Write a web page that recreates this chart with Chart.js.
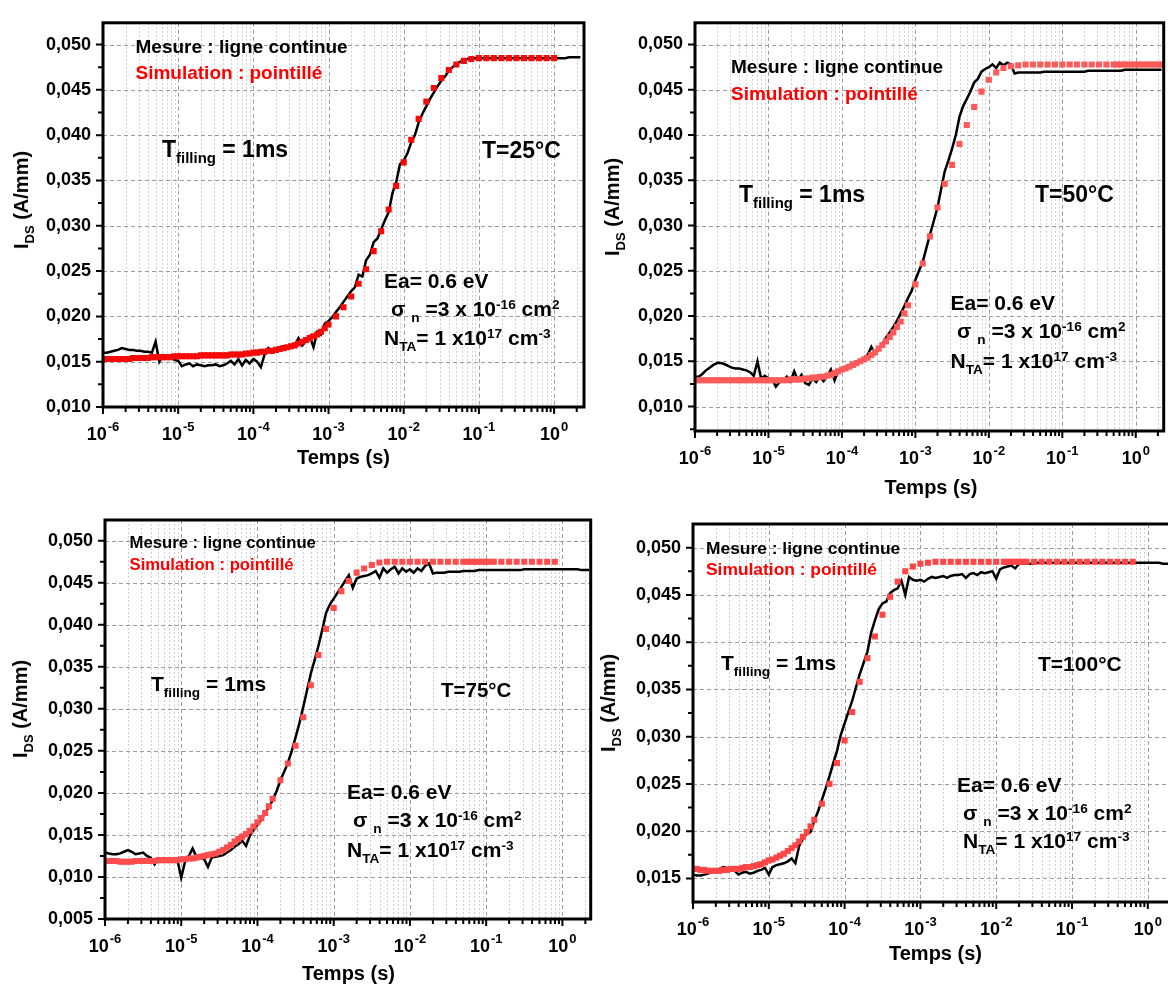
<!DOCTYPE html>
<html>
<head>
<meta charset="utf-8">
<script src="https://cdn.jsdelivr.net/npm/chart.js@4.4.1/dist/chart.umd.min.js"></script>
<style>
  html, body { margin: 0; padding: 0; background: #fff; overflow: hidden; }
  body { width: 1168px; height: 987px; position: relative;
         font-family: 'Liberation Sans', Arial, Helvetica, sans-serif; font-weight: bold; color: #000; }
  canvas { position: absolute; }
  .t { position: absolute; white-space: nowrap; line-height: 1; }
  .sb { font-size: 0.65em; position: relative; top: 0.45em; }
  .sp { font-size: 0.65em; position: relative; top: -0.5em; }
</style>
</head>
<body>
<script>
/* globals Chart:false */

// Time grid shared by all curves (0.05 decade steps)
var T_GRID = [
  1e-6,1.12e-6,1.26e-6,1.41e-6,1.58e-6,1.78e-6,2e-6,2.24e-6,2.51e-6,2.82e-6,3.16e-6,3.55e-6,3.98e-6,4.47e-6,5.01e-6,5.62e-6,6.31e-6,7.08e-6,7.94e-6,8.91e-6,
  1e-5,1.12e-5,1.26e-5,1.41e-5,1.58e-5,1.78e-5,2e-5,2.24e-5,2.51e-5,2.82e-5,3.16e-5,3.55e-5,3.98e-5,4.47e-5,5.01e-5,5.62e-5,6.31e-5,7.08e-5,7.94e-5,8.91e-5,
  1e-4,1.12e-4,1.26e-4,1.41e-4,1.58e-4,1.78e-4,2e-4,2.24e-4,2.51e-4,2.82e-4,3.16e-4,3.55e-4,3.98e-4,4.47e-4,5.01e-4,5.62e-4,6.31e-4,7.08e-4,7.94e-4,8.91e-4,
  1e-3,1.12e-3,1.26e-3,1.41e-3,1.58e-3,1.78e-3,2e-3,2.24e-3,2.51e-3,2.82e-3,3.16e-3,3.55e-3,3.98e-3,4.47e-3,5.01e-3,5.62e-3,6.31e-3,7.08e-3,7.94e-3,8.91e-3,
  1e-2,1.12e-2,1.26e-2,1.41e-2,1.58e-2,1.78e-2,2e-2,2.24e-2,2.51e-2,2.82e-2,3.16e-2,3.55e-2,3.98e-2,4.47e-2,5.01e-2,5.62e-2,6.31e-2,7.08e-2,7.94e-2,8.91e-2,
  1e-1,1.12e-1,1.26e-1,1.41e-1,1.58e-1,1.78e-1,2e-1,2.24e-1,2.51e-1,2.82e-1,3.16e-1,3.55e-1,3.98e-1,4.47e-1,5.01e-1,5.62e-1,6.31e-1,7.08e-1,7.94e-1,8.91e-1,
  1,1.12,1.26,1.41,1.58,1.78,2,2.24
];

// T = 25 C : measurement (line) and simulation (points, null = no point)
var MES_25 = [
  0.0160,0.0160,0.0161,0.0162,0.0163,0.0165,0.0164,0.0163,0.0163,0.0162,0.0162,0.0161,0.0161,0.0160,0.0172,0.0150,0.0157,0.0154,0.0155,0.0152,
  0.0151,0.0145,0.0147,0.0148,0.0145,0.0147,0.0146,0.0145,0.0146,0.0146,0.0147,0.0145,0.0146,0.0148,0.0151,0.0147,0.0153,0.0146,0.0152,0.0148,
  0.0153,0.0150,0.0144,0.0158,0.0165,0.0160,0.0162,0.0163,0.0164,0.0165,0.0166,0.0168,0.0176,0.0168,0.0173,0.0178,0.0166,0.0183,0.0180,0.0192,
  0.0195,0.0199,0.0205,0.0210,0.0216,0.0222,0.0228,0.0232,0.0246,0.0244,0.0262,0.0268,0.0282,0.0286,0.0296,0.0306,0.0315,0.0336,0.0348,0.0368,
  0.0372,0.0380,0.0392,0.0400,0.0414,0.0424,0.0432,0.0440,0.0447,0.0454,0.0460,0.0465,0.0471,0.0475,0.0479,0.0481,0.0483,0.0484,0.0485,0.0485,
  0.0485,0.0485,0.0485,0.0485,0.0485,0.0485,0.0485,0.0485,0.0485,0.0485,0.0485,0.0485,0.0485,0.0485,0.0485,0.0485,0.0485,0.0485,0.0485,0.0485,
  0.0485,0.0485,0.0485,0.0485,0.0486,0.0486,0.0486,0.0486
];
var SIM_25 = [
  0.0153,0.0153,0.0153,0.0153,0.0153,0.0153,0.0153,0.0153,0.0154,0.0154,0.0154,0.0154,0.0154,0.0155,0.0155,0.0155,0.0155,0.0155,0.0155,0.0156,
  0.0156,0.0156,0.0156,0.0156,0.0156,0.0156,0.0157,0.0157,0.0157,0.0157,0.0157,0.0157,0.0157,0.0157,0.0158,0.0158,0.0158,0.0158,0.0159,0.0159,
  0.0160,0.0160,0.0161,0.0161,0.0162,0.0162,0.0163,0.0164,0.0165,0.0166,0.0167,0.0168,0.0170,0.0172,0.0174,0.0176,0.0178,0.0180,0.0183,0.0187,
  0.0191,null,0.0200,null,0.0210,null,0.0222,null,0.0236,null,0.0252,null,0.0272,null,0.0294,null,0.0318,null,0.0344,null,
  0.0370,null,0.0395,null,0.0418,null,0.0437,null,0.0452,null,0.0463,null,0.0472,null,0.0478,null,0.0482,null,0.0484,null,
  0.0485,null,0.0485,null,0.0485,null,0.0485,null,0.0485,null,0.0485,null,0.0485,null,0.0485,null,0.0485,null,0.0485,null,
  0.0485,null,null,null,null,null,null,null
];

// T = 50 C
var MES_50 = [
  0.0133,0.0133,0.0136,0.0140,0.0143,0.0146,0.0148,0.0148,0.0147,0.0145,0.0143,0.0142,0.0142,0.0141,0.0140,0.0138,0.0134,0.0150,0.0131,0.0134,
  0.0131,0.0130,0.0122,0.0127,0.0129,0.0133,0.0128,0.0139,0.0129,0.0135,0.0126,0.0124,0.0131,0.0127,0.0133,0.0128,0.0134,0.0141,0.0129,0.0139,
  0.0141,0.0144,0.0146,0.0147,0.0149,0.0151,0.0154,0.0157,0.0166,0.0158,0.0163,0.0169,0.0176,0.0182,0.0188,0.0195,0.0203,0.0211,0.0220,0.0228,
  0.0240,0.0250,0.0260,0.0275,0.0290,0.0305,0.0320,0.0340,0.0360,0.0372,0.0385,0.0400,0.0420,0.0432,0.0440,0.0448,0.0458,0.0462,0.0470,0.0473,
  0.0475,0.0478,0.0474,0.0480,0.0477,0.0480,0.0478,0.0468,0.0469,0.0469,0.0469,0.0469,0.0469,0.0469,0.0469,0.0470,0.0470,0.0470,0.0470,0.0470,
  0.0470,0.0470,0.0470,0.0470,0.0470,0.0470,0.0470,0.0471,0.0471,0.0471,0.0471,0.0471,0.0471,0.0471,0.0471,0.0471,0.0471,0.0472,0.0472,0.0472,
  0.0472,0.0472,0.0472,0.0472,0.0472,0.0472,0.0472,0.0472
];
var SIM_50 = [
  0.0129,0.0129,0.0129,0.0129,0.0129,0.0129,0.0129,0.0129,0.0129,0.0129,0.0129,0.0129,0.0129,0.0129,0.0129,0.0129,0.0129,0.0129,0.0129,0.0129,
  0.0129,0.0129,0.0129,0.0129,0.0129,0.0129,0.0130,0.0130,0.0130,0.0130,0.0131,0.0131,0.0132,0.0132,0.0133,0.0133,0.0134,0.0135,0.0137,0.0139,
  0.0141,0.0142,0.0144,0.0146,0.0148,0.0150,0.0152,0.0154,0.0157,0.0160,0.0164,0.0168,0.0172,0.0177,0.0182,0.0188,0.0194,0.0203,0.0212,null,
  0.0235,null,0.0258,null,0.0288,null,0.0320,null,0.0346,null,0.0367,null,0.0390,null,0.0411,null,0.0431,null,0.0448,null,
  0.0461,null,0.0469,null,0.0474,null,0.0476,null,0.0477,null,0.0478,null,0.0478,null,0.0478,null,0.0478,null,0.0478,null,
  0.0478,null,0.0478,null,0.0478,null,0.0478,null,0.0478,null,0.0478,null,0.0478,null,0.0478,0.0478,0.0478,0.0478,0.0478,0.0478,
  0.0478,0.0478,0.0478,0.0478,0.0478,0.0478,0.0478,0.0478
];

// T = 75 C
var MES_75 = [
  0.0129,0.0128,0.0127,0.0127,0.0128,0.0130,0.0132,0.0130,0.0127,0.0128,0.0129,0.0125,0.0123,0.0115,0.0122,0.0121,0.0122,0.0121,0.0122,0.0120,
  0.0099,0.0118,0.0125,0.0134,0.0124,0.0123,0.0121,0.0112,0.0123,0.0124,0.0125,0.0126,0.0129,0.0132,0.0136,0.0139,0.0143,0.0137,0.0149,0.0156,
  0.0162,0.0168,0.0176,0.0183,0.0191,0.0202,0.0215,0.0225,0.0236,0.0250,0.0266,0.0283,0.0302,0.0322,0.0342,0.0358,0.0375,0.0394,0.0414,0.0424,
  0.0431,0.0438,0.0445,0.0452,0.0459,0.0444,0.0455,0.0457,0.0458,0.0459,0.0461,0.0464,0.0456,0.0467,0.0462,0.0466,0.0469,0.0461,0.0467,0.0463,
  0.0466,0.0462,0.0467,0.0464,0.0470,0.0473,0.0461,0.0462,0.0462,0.0462,0.0463,0.0463,0.0463,0.0463,0.0464,0.0464,0.0464,0.0464,0.0465,0.0465,
  0.0465,0.0465,0.0465,0.0465,0.0465,0.0465,0.0465,0.0465,0.0465,0.0465,0.0466,0.0466,0.0466,0.0466,0.0466,0.0466,0.0466,0.0466,0.0466,0.0466,
  0.0466,0.0466,0.0466,0.0466,0.0466,0.0465,0.0465,0.0465
];
var SIM_75 = [
  0.0119,0.0119,0.0119,0.0119,0.0118,0.0118,0.0118,0.0118,0.0119,0.0119,0.0119,0.0119,0.0119,0.0119,0.0120,0.0120,0.0120,0.0120,0.0120,0.0120,
  0.0121,0.0121,0.0122,0.0122,0.0123,0.0124,0.0125,0.0126,0.0127,0.0128,0.0130,0.0132,0.0135,0.0138,0.0142,0.0145,0.0148,0.0151,0.0155,0.0160,
  0.0165,0.0170,0.0176,0.0184,0.0193,null,0.0215,null,0.0235,null,0.0256,null,0.0290,null,0.0328,null,0.0364,null,0.0395,null,
  0.0420,null,0.0440,null,0.0452,null,0.0462,null,0.0467,null,0.0471,null,0.0474,null,0.0475,null,0.0475,null,0.0475,null,
  0.0475,null,0.0475,null,0.0475,null,0.0475,null,0.0475,null,0.0475,null,0.0475,null,0.0475,0.0475,0.0475,0.0475,0.0475,0.0475,
  0.0475,0.0475,0.0475,null,0.0475,null,0.0475,null,0.0475,null,0.0475,null,0.0475,null,0.0475,null,0.0475,null,0.0475,null,
  null,null,null,null,null,null,null,null
];

// T = 100 C
var MES_100 = [
  0.0154,0.0153,0.0153,0.0154,0.0155,0.0157,0.0159,0.0160,0.0162,0.0161,0.0160,0.0158,0.0154,0.0156,0.0157,0.0155,0.0156,0.0158,0.0159,0.0161,
  0.0154,0.0162,0.0164,0.0165,0.0166,0.0168,0.0171,0.0166,0.0184,0.0192,0.0197,0.0199,0.0211,0.0221,0.0233,0.0245,0.0258,0.0272,0.0285,0.0302,
  0.0314,0.0326,0.0338,0.0352,0.0366,0.0378,0.0390,0.0410,0.0423,0.0435,0.0441,0.0443,0.0452,0.0455,0.0457,0.0465,0.0450,0.0469,0.0466,0.0465,
  0.0466,0.0464,0.0467,0.0469,0.0468,0.0469,0.0470,0.0468,0.0470,0.0471,0.0471,0.0472,0.0468,0.0472,0.0473,0.0471,0.0474,0.0473,0.0474,0.0475,
  0.0467,0.0477,0.0479,0.0480,0.0481,0.0478,0.0483,0.0483,0.0483,0.0483,0.0483,0.0484,0.0484,0.0484,0.0484,0.0484,0.0484,0.0484,0.0484,0.0484,
  0.0484,0.0484,0.0484,0.0484,0.0484,0.0484,0.0484,0.0484,0.0484,0.0484,0.0484,0.0484,0.0484,0.0484,0.0484,0.0484,0.0484,0.0484,0.0484,0.0484,
  0.0484,0.0484,0.0484,0.0484,0.0483,0.0483,0.0483,0.0483
];
var SIM_100 = [
  0.0160,0.0160,0.0159,0.0159,0.0158,0.0158,0.0158,0.0158,0.0159,0.0159,0.0160,0.0160,0.0160,0.0161,0.0162,0.0162,0.0163,0.0164,0.0165,0.0167,
  0.0169,0.0170,0.0172,0.0174,0.0176,0.0179,0.0182,0.0185,0.0189,0.0194,0.0199,0.0205,0.0212,null,0.0229,null,0.0250,null,0.0272,null,
  0.0296,null,0.0326,null,0.0358,null,0.0383,null,0.0406,null,0.0429,null,0.0448,null,0.0464,null,0.0475,null,0.0480,null,
  0.0483,null,0.0484,null,0.0485,null,0.0485,null,0.0485,null,0.0485,null,0.0485,null,0.0485,null,0.0485,null,0.0485,null,
  0.0485,null,0.0485,0.0485,0.0485,0.0485,0.0485,0.0485,0.0485,null,0.0485,null,0.0485,null,0.0485,null,0.0485,null,0.0485,null,
  0.0485,null,0.0485,null,0.0485,null,0.0485,null,0.0485,null,0.0485,null,0.0485,null,0.0485,null,0.0485,null,null,null,
  null,null,null,null,null,null,null,null
];

// Tick labels
var X_DECADES = [1e-6, 1e-5, 1e-4, 1e-3, 1e-2, 1e-1, 1];
var X_EXPONENTS = ['-6', '-5', '-4', '-3', '-2', '-1', '0'];
var X_MINOR_STEPS = [2, 3, 4, 5, 6, 7, 8, 9];
var Y_TICKS_A = [0.010, 0.015, 0.020, 0.025, 0.030, 0.035, 0.040, 0.045, 0.050];
var Y_TICKS_B = [0.005, 0.010, 0.015, 0.020, 0.025, 0.030, 0.035, 0.040, 0.045, 0.050];
var Y_TICKS_C = [0.015, 0.020, 0.025, 0.030, 0.035, 0.040, 0.045, 0.050];

var FONT = "'Liberation Sans', Arial, Helvetica, sans-serif";

// box = canvas rectangle, area = plot frame (left, top, right, bottom) in page pixels
var panels = [
  {box: [0, 0, 590, 490], area: [103, 12, 584, 407], xmax: 2.5, ymin: 0.010, ymax: 0.0524,
   yTicks: Y_TICKS_A, mes: MES_25, sim: SIM_25, simColor: '#f50a0a'},
  {box: [590, 0, 1168, 500], area: [695, 7, 1167, 431], xmax: 2.4, ymin: 0.0073, ymax: 0.0524,
   yTicks: Y_TICKS_A, mes: MES_50, sim: SIM_50, simColor: '#ff5a5a'},
  {box: [0, 495, 595, 987], area: [105, 520, 592, 919], xmax: 2.35, ymin: 0.005, ymax: 0.05246,
   yTicks: Y_TICKS_B, mes: MES_75, sim: SIM_75, simColor: '#ff4d4d'},
  {box: [595, 500, 1190, 987], area: [693, 524, 1178, 902], xmax: 2.5, ymin: 0.0125, ymax: 0.0525,
   yTicks: Y_TICKS_C, mes: MES_100, sim: SIM_100, simColor: '#ff4545'}
];

function minorX(p) {
  var out = [];
  X_DECADES.forEach(function(d) {
    X_MINOR_STEPS.forEach(function(m) {
      if (d * m < p.xmax) out.push(d * m);
    });
  });
  return out;
}

function minorY(p) {
  var out = [], t = p.yTicks, half = (t[1] - t[0]) / 2;
  if (t[0] - half >= p.ymin) out.push(t[0] - half);
  for (var i = 0; i < t.length - 1; i++) out.push(t[i] + half);
  if (t[t.length - 1] + half <= p.ymax) out.push(t[t.length - 1] + half);
  return out;
}

// Grid, frame, tick marks and x tick labels
function framePlugin(p) {
  return {
    id: 'frame',
    beforeDatasetsDraw: function(chart) {
      var ctx = chart.ctx, a = chart.chartArea, xs = chart.scales.x, ys = chart.scales.y;
      ctx.save();
      ctx.lineWidth = 1;
      ctx.strokeStyle = '#d0d0d0';
      ctx.setLineDash([2, 2]);
      minorX(p).forEach(function(v) {
        var x = Math.round(xs.getPixelForValue(v)) + 0.5;
        ctx.beginPath(); ctx.moveTo(x, a.top); ctx.lineTo(x, a.bottom); ctx.stroke();
      });
      ctx.strokeStyle = '#9c9c9c';
      ctx.setLineDash([4, 3]);
      X_DECADES.forEach(function(v) {
        var x = Math.round(xs.getPixelForValue(v)) + 0.5;
        ctx.beginPath(); ctx.moveTo(x, a.top); ctx.lineTo(x, a.bottom); ctx.stroke();
      });
      p.yTicks.forEach(function(v) {
        var y = Math.round(ys.getPixelForValue(v)) + 0.5;
        ctx.beginPath(); ctx.moveTo(a.left, y); ctx.lineTo(a.right, y); ctx.stroke();
      });
      ctx.restore();
    },
    afterDatasetsDraw: function(chart) {
      var ctx = chart.ctx, a = chart.chartArea, xs = chart.scales.x, ys = chart.scales.y;
      ctx.save();
      ctx.strokeStyle = '#000';
      ctx.lineWidth = 3;
      ctx.strokeRect(a.left, a.top, a.right - a.left, a.bottom - a.top);
      // tick marks, outward
      ctx.lineWidth = 2;
      ctx.beginPath();
      X_DECADES.forEach(function(v) {
        var x = xs.getPixelForValue(v);
        ctx.moveTo(x, a.bottom); ctx.lineTo(x, a.bottom + 7);
      });
      minorX(p).forEach(function(v) {
        var x = xs.getPixelForValue(v);
        ctx.moveTo(x, a.bottom); ctx.lineTo(x, a.bottom + 5);
      });
      p.yTicks.forEach(function(v) {
        var y = ys.getPixelForValue(v);
        ctx.moveTo(a.left, y); ctx.lineTo(a.left - 7, y);
      });
      minorY(p).forEach(function(v) {
        var y = ys.getPixelForValue(v);
        ctx.moveTo(a.left, y); ctx.lineTo(a.left - 5, y);
      });
      ctx.stroke();
      // x labels 10^n
      ctx.fillStyle = '#000';
      ctx.textBaseline = 'alphabetic';
      ctx.textAlign = 'left';
      X_DECADES.forEach(function(v, i) {
        var x = xs.getPixelForValue(v), base = a.bottom + 32.5;
        ctx.font = 'bold 18px ' + FONT;
        var w1 = ctx.measureText('10').width;
        ctx.font = 'bold 13px ' + FONT;
        var w2 = ctx.measureText(X_EXPONENTS[i]).width;
        var x0 = x - (w1 + w2 + 1) / 2;
        ctx.font = 'bold 18px ' + FONT;
        ctx.fillText('10', x0, base);
        ctx.font = 'bold 13px ' + FONT;
        ctx.fillText(X_EXPONENTS[i], x0 + w1 + 1, base - 9);
      });
      ctx.restore();
    }
  };
}

function makeChart(p) {
  var cv = document.createElement('canvas');
  var w = p.box[2] - p.box[0], h = p.box[3] - p.box[1];
  cv.width = w;
  cv.height = h;
  cv.style.left = p.box[0] + 'px';
  cv.style.top = p.box[1] + 'px';
  cv.style.width = w + 'px';
  cv.style.height = h + 'px';
  document.body.appendChild(cv);

  var mes = [], sim = [], i;
  for (i = 0; i < T_GRID.length; i++) {
    if (p.mes[i] !== null) mes.push({x: T_GRID[i], y: p.mes[i]});
    if (p.sim[i] !== null) sim.push({x: T_GRID[i], y: p.sim[i]});
  }

  return new Chart(cv, {
    type: 'line',
    data: {
      datasets: [{
        label: 'Simulation',
        data: sim,
        showLine: false,
        pointStyle: 'rect',
        pointRadius: 4.3,
        pointBorderWidth: 0,
        pointBackgroundColor: p.simColor,
        backgroundColor: p.simColor,
        borderColor: p.simColor,
        order: 0
      }, {
        label: 'Mesure',
        data: mes,
        borderColor: '#000',
        borderWidth: 2.5,
        pointRadius: 0,
        tension: 0,
        fill: false,
        order: 1
      }]
    },
    options: {
      responsive: false,
      animation: false,
      events: [],
      layout: {padding: {left: 0, top: p.area[1] - p.box[1], right: p.box[2] - p.area[2], bottom: 0}},
      plugins: {legend: {display: false}, tooltip: {enabled: false}},
      scales: {
        x: {
          type: 'logarithmic',
          min: 1e-6,
          max: p.xmax,
          grid: {display: false, drawTicks: false},
          border: {display: false},
          ticks: {display: false},
          afterBuildTicks: function(s) {
            s.ticks = X_DECADES.map(function(v) { return {value: v, major: true}; });
          },
          afterFit: function(s) { s.height = p.box[3] - p.area[3]; }
        },
        y: {
          type: 'linear',
          min: p.ymin,
          max: p.ymax,
          grid: {display: false, drawTicks: false},
          border: {display: false},
          ticks: {
            color: '#000',
            padding: 12,
            font: {family: FONT, size: 18, weight: 'bold'},
            callback: function(v) { return v.toFixed(3).replace('.', ','); }
          },
          afterBuildTicks: function(s) {
            s.ticks = p.yTicks.map(function(v) { return {value: v}; });
          },
          afterFit: function(s) { s.width = p.area[0] - p.box[0]; }
        }
      }
    },
    plugins: [framePlugin(p)]
  });
}

panels.forEach(makeChart);

// Text annotations
function addText(x, base, size, html, color) {
  var d = document.createElement('div');
  d.className = 't';
  d.style.left = x + 'px';
  d.style.top = (base - 0.8465 * size) + 'px';
  d.style.fontSize = size + 'px';
  if (color) d.style.color = color;
  d.innerHTML = html;
  document.body.appendChild(d);
  return d;
}

function addXTitle(p, base) {
  var d = addText((p.area[0] + p.area[2]) / 2, base, 20, 'Temps (s)');
  d.style.transform = 'translateX(-50%)';
}

function addYTitle(cx, cy) {
  var d = document.createElement('div');
  d.className = 't';
  d.style.fontSize = '20px';
  d.style.left = cx + 'px';
  d.style.top = cy + 'px';
  d.style.transform = 'translate(-50%, -50%) rotate(-90deg)';
  d.innerHTML = 'I<span class="sb">DS</span> (A/mm)';
  document.body.appendChild(d);
}

var TFILL = 'T<span class="sb">filling</span> = 1ms';
var EA = 'Ea= 0.6 eV';
var SIGMA = '&sigma; <span class="sb">n</span> =3 x 10<span class="sp">-16</span> cm<span class="sp">2</span>';
var NTA = 'N<span class="sb">TA</span>= 1 x10<span class="sp">17</span> cm<span class="sp">-3</span>';
var RED = '#ff0000';

// 25 C
addText(135.5, 53, 19, 'Mesure : ligne continue');
addText(135.5, 79, 19, 'Simulation : pointillé', RED);
addText(162, 157, 23, TFILL);
addText(482, 158, 23, 'T=25°C');
addText(384, 288, 21, EA);
addText(391, 316, 21, SIGMA);
addText(384, 345, 21, NTA);
addXTitle(panels[0], 464);
addYTitle(21, 200);

// 50 C
addText(731, 73, 19, 'Mesure : ligne continue');
addText(731, 100, 19, 'Simulation : pointillé', RED);
addText(739, 202, 23, TFILL);
addText(1035, 202, 23, 'T=50°C');
addText(950.5, 310, 21, EA);
addText(957, 338, 21, SIGMA);
addText(950.5, 368, 21, NTA);
addXTitle(panels[1], 494);
addYTitle(612, 207);

// 75 C
addText(129.5, 549, 16.7, 'Mesure : ligne continue');
addText(129.5, 571, 16.7, 'Simulation : pointillé', RED);
addText(151, 691, 21, TFILL);
addText(441, 697, 20.5, 'T=75°C');
addText(347, 799, 21, EA);
addText(353, 827, 21, SIGMA);
addText(347, 857, 21, NTA);
addXTitle(panels[2], 980);
addYTitle(20, 709);

// 100 C
addText(706, 555, 17.4, 'Mesure : ligne continue');
addText(706, 576, 17.4, 'Simulation : pointillé', RED);
addText(721, 670, 21, TFILL);
addText(1038, 671, 21, 'T=100°C');
addText(957, 792, 21, EA);
addText(963, 820, 21, SIGMA);
addText(963, 848, 21, NTA);
addXTitle(panels[3], 960);
addYTitle(608, 703);
</script>
</body>
</html>
